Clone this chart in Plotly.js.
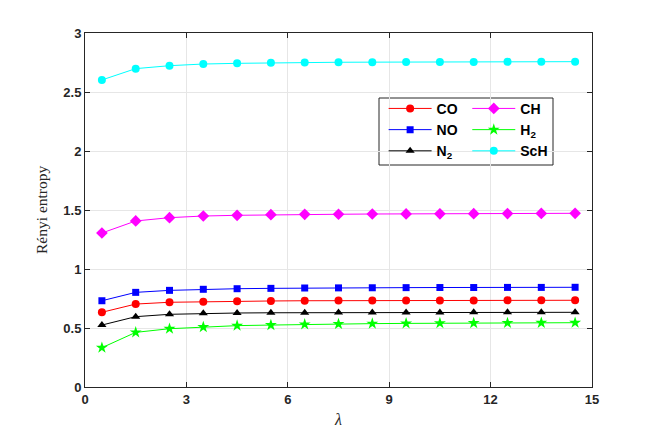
<!DOCTYPE html>
<html><head><meta charset="utf-8">
<script src="https://cdn.plot.ly/plotly-3.0.1.min.js"></script>
<style>html,body{margin:0;padding:0;background:#fff}#c{width:654px;height:436px}</style>
</head><body><div id="c"></div>
<script>
const lambda = [0.5,1.5,2.5,3.5,4.5,5.5,6.5,7.5,8.5,9.5,10.5,11.5,12.5,13.5,14.5];
const CO  = [0.633,0.703,0.718,0.723,0.726,0.729,0.731,0.732,0.733,0.733,0.734,0.734,0.735,0.735,0.735];
const NO  = [0.731,0.802,0.819,0.828,0.833,0.836,0.839,0.840,0.841,0.842,0.843,0.843,0.844,0.844,0.845];
const N2  = [0.525,0.596,0.616,0.624,0.627,0.629,0.630,0.631,0.632,0.632,0.632,0.633,0.633,0.633,0.633];
const CH  = [1.305,1.407,1.435,1.449,1.455,1.460,1.463,1.464,1.466,1.467,1.468,1.469,1.470,1.471,1.472];
const H2  = [0.333,0.463,0.494,0.508,0.520,0.525,0.531,0.534,0.537,0.539,0.541,0.542,0.543,0.544,0.545];
const ScH = [2.602,2.698,2.723,2.737,2.743,2.748,2.751,2.752,2.753,2.754,2.755,2.755,2.756,2.756,2.757];
const xTicks = [0,3,6,9,12,15];
const yTicks = [0,0.5,1,1.5,2,2.5,3];
const yTickText = ['0','0.5','1','1.5','2','2.5','3'];
const yLabel = 'Rényi entropy';
const xLabel = 'λ';

function tr(y, name, color, symbol, size, legend){
  return {x: lambda, y: y, name: name, type:'scatter', mode:'lines+markers',
    line:{color:color, width:1}, marker:{color:color, symbol:symbol, size:size}, legend: legend};
}
const data = [
  tr(CO,'CO','#ff0000','circle',8,'legend'),
  tr(NO,'NO','#0000ff','square',7,'legend'),
  tr(N2,'N<sub>2</sub>','#000000','triangle-up',8,'legend'),
  tr(CH,'CH','#ff00ff','diamond',9,'legend2'),
  tr(H2,'H<sub>2</sub>','#00ff00','star',9,'legend2'),
  tr(ScH,'ScH','#00ffff','circle',8,'legend2')
];
const tickFont = {family:'Liberation Sans, Arial, sans-serif', size:13, color:'#262626', weight:'bold'};
const legFont = {family:'Liberation Sans, Arial, sans-serif', size:14, color:'#000', weight:'bold'};
const layout = {
  width:654, height:436,
  margin:{l:85, r:62, t:33, b:49},
  paper_bgcolor:'#fff', plot_bgcolor:'#fff',
  showlegend:true,
  xaxis:{range:[0,15], tickvals:xTicks, ticktext:xTicks.map(String), ticks:'inside', ticklen:5, tickcolor:'#262626',
    showline:true, mirror:'ticks', linecolor:'#262626', linewidth:1, showgrid:true, gridcolor:'#e6e6e6', zeroline:false,
    tickfont:tickFont,
    title:{text:xLabel, font:{family:'Liberation Serif, Times New Roman, serif', size:16, style:'italic', color:'#262626'}, standoff:8}},
  yaxis:{range:[0,3], tickvals:yTicks, ticktext:yTickText, ticks:'inside', ticklen:5, tickcolor:'#262626',
    showline:true, mirror:'ticks', linecolor:'#262626', linewidth:1, showgrid:true, gridcolor:'#e6e6e6', zeroline:false,
    tickfont:tickFont},
  annotations:[{text:yLabel, xref:'paper', yref:'paper', x:-(85-41)/507, y:0.5, xanchor:'center', yanchor:'middle',
    textangle:-90, showarrow:false, font:{family:'Liberation Serif, Times New Roman, serif', size:15.5, color:'#262626'}}],
  legend:{x:0.589, y:0.831, xanchor:'left', yanchor:'top', bgcolor:'rgba(0,0,0,0)', borderwidth:0, font:legFont, tracegroupgap:0, itemwidth:43},
  legend2:{x:0.754, y:0.831, xanchor:'left', yanchor:'top', bgcolor:'rgba(0,0,0,0)', borderwidth:0, font:legFont, tracegroupgap:0, itemwidth:43},
  shapes:[{type:'rect', xref:'paper', yref:'paper', x0:(379-85)/507, x1:(553-85)/507, y0:(387-165)/354, y1:(387-98)/354,
    line:{color:'#262626', width:1}, fillcolor:'rgba(255,255,255,1)', layer:'below'}]
};
Plotly.newPlot('c', data, layout, {displayModeBar:false, staticPlot:true});
</script></body></html>
